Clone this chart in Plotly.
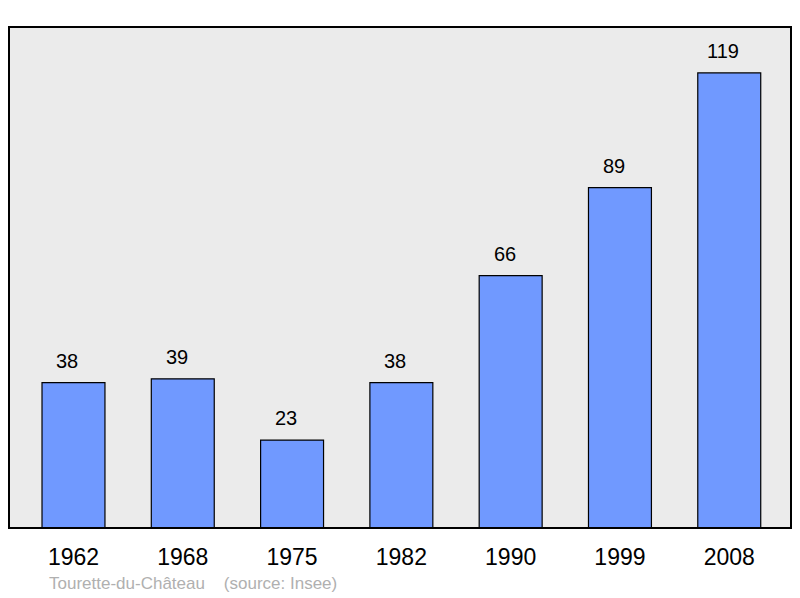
import plotly.graph_objects as go

years = ["1962", "1968", "1975", "1982", "1990", "1999", "2008"]
population = [38, 39, 23, 38, 66, 89, 119]
source_text = "Tourette-du-Château    (source: Insee)"

idx = list(range(len(years)))
FONT = "Liberation Sans, Arial, sans-serif"

fig = go.Figure()
fig.add_trace(go.Bar(
    x=idx, y=population, width=0.576,
    marker=dict(color="#7099ff", line=dict(color="black", width=1.2)),
    hoverinfo="skip",
))

for i, v in zip(idx, population):
    fig.add_annotation(x=i, y=v, text=str(v), showarrow=False, yanchor="bottom",
                       yshift=9, xshift=-6, font=dict(size=20, color="black", family=FONT))

fig.add_annotation(xref="paper", yref="paper", x=(47 - 9) / 782, y=0, yshift=-55,
                   xanchor="left", yanchor="middle", showarrow=False, text=source_text,
                   font=dict(size=17, color="#b0b0b0", family=FONT))

fig.add_shape(type="rect", xref="paper", yref="paper", x0=0, y0=0, x1=1, y1=1,
              line=dict(color="black", width=2), layer="above")

fig.update_layout(
    width=792, height=590,
    margin=dict(l=1, r=9, t=19, b=70),
    paper_bgcolor="white", plot_bgcolor="#ebebeb",
    showlegend=False,
    font=dict(family=FONT),
    xaxis=dict(range=[-0.590, 6.565], tickvals=idx, ticktext=years,
               showgrid=False, zeroline=False, ticks="outside", ticklen=8,
               tickcolor="rgba(0,0,0,0)", tickfont=dict(size=23, color="black"),
               fixedrange=True),
    yaxis=dict(range=[0, 131], showgrid=False, zeroline=False, showticklabels=False,
               fixedrange=True),
)

fig.write_html("out.html")
